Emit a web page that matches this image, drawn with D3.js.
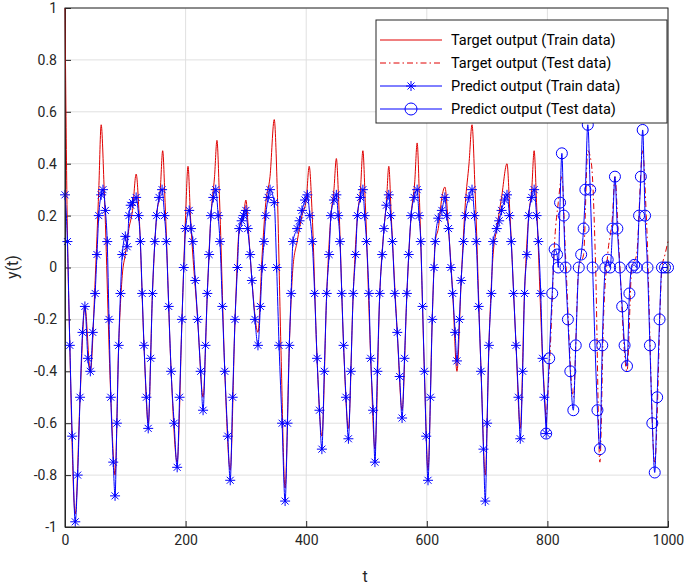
<!DOCTYPE html><html><head><meta charset="utf-8"><script src="https://cdn.jsdelivr.net/npm/d3@7"></script>
<style>body{margin:0;background:#fff}text{font-family:Roboto,"Liberation Sans",sans-serif}</style></head><body>
<svg id="c" width="685" height="588"></svg>
<script>
const xTicks=[0,200,400,600,800,1000];
const yTicks=[-1,-0.8,-0.6,-0.4,-0.2,0,0.2,0.4,0.6,0.8,1];
const legendLabels=["Target output (Train data)","Target output (Test data)","Predict output (Train data)","Predict output (Test data)"];
const targetTrain=[[0,1],[3,.3],[8,-.3],[17,-.95],[25,-.5],[33,-.15],[42,-.4],[50,-.05],[56,.3],[60,.55],[65,.3],[76,-.5],[83,-.8],[89,-.3],[95,-.03],[100,.05],[106,.15],[112,.22],[118,.36],[123,.2],[131,-.3],[138,-.6],[145,-.1],[152,.2],[158,.3],[162,.45],[166,.25],[176,-.4],[186,-.75],[194,-.2],[200,.2],[204,.39],[208,.2],[220,-.2],[229,-.5],[236,-.1],[242,.2],[248,.35],[252,.49],[256,.28],[265,-.4],[274,-.78],[282,-.2],[289,.15],[296,.2],[300,.26],[304,.15],[310,-.05],[320,-.25],[327,.05],[333,.25],[340,.35],[347,.57],[352,.3],[358,-.3],[365,-.85],[372,-.3],[378,0],[385,.1],[393,.2],[400,.26],[405,.39],[410,.2],[418,-.35],[426,-.65],[434,-.1],[441,.2],[446,.3],[450,.42],[454,.25],[462,-.3],[470,-.62],[478,-.1],[485,.2],[490,.3],[494,.45],[498,.25],[507,-.35],[514,-.7],[522,-.1],[529,.15],[533,.25],[537,.39],[541,.2],[551,-.25],[559,-.55],[567,-.1],[574,.2],[580,.33],[584,.48],[588,.25],[596,-.4],[602,-.78],[609,-.2],[614,.1],[619,.15],[625,.27],[630,.31],[636,.15],[643,-.1],[650,-.4],[657,-.05],[664,.25],[670,.4],[675,.55],[680,.3],[690,-.4],[697,-.8],[703,-.3],[710,.05],[716,.15],[724,.27],[733,.4],[738,.2],[748,-.3],[755,-.62],[762,-.1],[769,.2],[774,.3],[778,.45],[782,.25],[792,-.35],[798,-.6]];
const targetTest=[[798,-.6],[805,-.3],[812,.1],[818,.25],[824,.35],[830,.05],[843,-.5],[852,0],[860,.05],[867,.45],[873,.4],[880,0],[887,-.75],[893,-.2],[900,.05],[908,.2],[912,.35],[918,.1],[932,-.4],[940,0],[948,.05],[958,.45],[964,.2],[978,-.75],[990,0],[995,.05],[1000,.1]];
const predTrain=[[0,.28],[4,.1],[8,-.3],[12,-.65],[17,-.98],[21,-.8],[25,-.5],[29,-.25],[33,-.15],[38,-.35],[42,-.4],[46,-.25],[50,-.1],[53,.05],[56,.2],[60,.28],[63,.3],[67,.22],[70,.1],[73,-.2],[76,-.5],[80,-.75],[83,-.88],[86,-.6],[89,-.3],[92,-.1],[95,.05],[100,.12],[103,.08],[106,.2],[109,.24],[112,.25],[118,.27],[122,.2],[125,.1],[128,-.1],[131,-.3],[135,-.5],[138,-.62],[142,-.35],[145,-.1],[149,.1],[152,.2],[156,.27],[161,.3],[165,.2],[168,.1],[172,-.15],[176,-.4],[181,-.6],[186,-.77],[190,-.5],[194,-.2],[197,0],[200,.15],[206,.22],[209,.15],[212,.1],[216,-.05],[220,-.2],[225,-.4],[229,-.55],[233,-.3],[236,-.1],[239,.05],[242,.2],[246,.27],[250,.3],[254,.2],[257,.1],[261,-.15],[265,-.4],[270,-.65],[274,-.82],[278,-.5],[282,-.2],[286,0],[289,.15],[293,.18],[296,.2],[300,.22],[303,.15],[307,.05],[310,-.05],[315,-.2],[320,-.3],[324,-.15],[327,0],[330,.1],[333,.2],[337,.27],[340,.3],[347,.25],[351,0],[355,-.3],[360,-.6],[365,-.9],[369,-.6],[372,-.3],[375,-.1],[378,.1],[385,.15],[389,.18],[393,.22],[398,.26],[402,.28],[406,.2],[410,.1],[414,-.1],[418,-.35],[422,-.55],[426,-.7],[430,-.4],[434,-.1],[438,.05],[441,.2],[446,.26],[450,.28],[453,.2],[456,.1],[459,-.1],[462,-.3],[466,-.5],[470,-.66],[474,-.4],[478,-.1],[482,.05],[485,.2],[490,.27],[494,.3],[497,.2],[500,.1],[504,-.1],[507,-.35],[511,-.55],[514,-.75],[518,-.4],[522,-.1],[526,.05],[529,.15],[533,.24],[537,.28],[540,.2],[543,.1],[547,-.1],[551,-.25],[555,-.42],[559,-.58],[563,-.35],[567,-.1],[570,.05],[574,.2],[579,.27],[584,.3],[587,.2],[590,.1],[593,-.15],[596,-.4],[599,-.65],[602,-.82],[606,-.5],[609,-.2],[612,0],[614,.1],[619,.19],[625,.22],[630,.27],[633,.2],[636,.15],[640,0],[643,-.1],[647,-.25],[650,-.36],[654,-.2],[657,-.05],[661,.1],[664,.2],[670,.27],[675,.3],[679,.2],[682,.1],[686,-.15],[690,-.4],[694,-.7],[697,-.9],[700,-.6],[703,-.3],[707,-.1],[710,.1],[716,.15],[720,.18],[724,.22],[729,.26],[733,.28],[737,.2],[740,.1],[744,-.1],[748,-.3],[752,-.5],[755,-.66],[759,-.4],[762,-.1],[766,.05],[769,.2],[774,.27],[778,.3],[782,.2],[785,.1],[789,-.1],[792,-.35],[795,-.5],[798,-.64]];
const predTest=[[798,-.64],[803,-.35],[808,-.1],[812,.07],[816,.05],[818,0],[821,.25],[824,.44],[827,.2],[830,0],[834,-.2],[838,-.4],[843,-.55],[847,-.3],[852,0],[856,.05],[860,.15],[863,.3],[867,.55],[871,.3],[875,0],[879,-.3],[883,-.55],[887,-.7],[891,-.3],[896,0],[900,.03],[904,0],[908,.15],[912,.35],[916,.15],[920,0],[924,-.15],[928,-.3],[932,-.38],[936,-.1],[940,0],[944,.01],[948,0],[952,.2],[955,.35],[958,.53],[962,.2],[966,0],[970,-.3],[974,-.6],[978,-.79],[982,-.5],[986,-.2],[990,0],[995,0],[1000,0]];

const svg=d3.select("#c");
const L=65,R=668,T=8,B=527;
const x=d3.scaleLinear().domain([0,1000]).range([L,R]);
const y=d3.scaleLinear().domain([-1,1]).range([B,T]);
const g=svg.append("g");
g.selectAll(".gx").data(xTicks).join("line").attr("x1",d=>x(d)).attr("x2",d=>x(d)).attr("y1",T).attr("y2",B).attr("stroke","#e0e0e0");
g.selectAll(".gy").data(yTicks).join("line").attr("y1",d=>y(d)).attr("y2",d=>y(d)).attr("x1",L).attr("x2",R).attr("stroke","#e0e0e0");
const xa=svg.append("g").attr("transform",`translate(0,${B})`).call(d3.axisBottom(x).tickValues(xTicks).tickFormat(d=>String(d)).tickSizeInner(-6).tickSizeOuter(0).tickPadding(8));
const ya=svg.append("g").attr("transform",`translate(${L},0)`).call(d3.axisLeft(y).tickValues(yTicks).tickFormat(d=>String(+d.toFixed(1))).tickSizeInner(-6).tickSizeOuter(0).tickPadding(8));
[xa,ya].forEach(a=>{a.selectAll("text").attr("font-size",14).attr("fill","#262626");a.selectAll("line,path").attr("stroke","#262626");});
const line=d3.line().x(d=>x(d[0])).y(d=>y(d[1])).curve(d3.curveMonotoneX);
const plot=svg.append("g");
plot.append("path").attr("d",line(targetTrain)).attr("fill","none").attr("stroke","#e00000").attr("stroke-width",1);
plot.append("path").attr("d",line(targetTest)).attr("fill","none").attr("stroke","#e00000").attr("stroke-width",1).attr("stroke-dasharray","6,3,1.5,3");
plot.append("path").attr("d",line(predTrain)).attr("fill","none").attr("stroke","#0000ff").attr("stroke-width",1);
plot.append("path").attr("d",line(predTest)).attr("fill","none").attr("stroke","#0000ff").attr("stroke-width",1);
const star="M-5,0H5M0,-5V5M-3.5,-3.5L3.5,3.5M-3.5,3.5L3.5,-3.5";
plot.selectAll(".st").data(predTrain).join("path").attr("d",star).attr("transform",d=>`translate(${x(d[0])},${y(d[1])})`).attr("stroke","#0000ff").attr("fill","none");
plot.selectAll(".ci").data(predTest).join("circle").attr("cx",d=>x(d[0])).attr("cy",d=>y(d[1])).attr("r",5.5).attr("stroke","#0000ff").attr("fill","none");
svg.append("rect").attr("x",L).attr("y",T).attr("width",R-L).attr("height",B-T).attr("fill","none").attr("stroke","#262626");
svg.append("text").attr("x",365).attr("y",582).attr("text-anchor","middle").attr("font-size",16).attr("fill","#262626").text("t");
svg.append("text").attr("transform","translate(18,267) rotate(-90)").attr("text-anchor","middle").attr("font-size",16).attr("fill","#262626").text("y(t)");
const lg=svg.append("g");
lg.append("rect").attr("x",376).attr("y",20).attr("width",291).attr("height",103).attr("fill","#fff").attr("stroke","#262626");
legendLabels.forEach((s,i)=>{const yy=40+i*23;const e=lg.append("g");
 e.append("line").attr("x1",380).attr("x2",442).attr("y1",yy).attr("y2",yy).attr("stroke",i<2?"#e00000":"#0000ff").attr("stroke-dasharray",i==1?"6,3,1.5,3":null);
 if(i==2)e.append("path").attr("d",star).attr("transform",`translate(411,${yy})`).attr("stroke","#0000ff");
 if(i==3)e.append("circle").attr("cx",411).attr("cy",yy).attr("r",6).attr("stroke","#0000ff").attr("fill","none");
 e.append("text").attr("x",451).attr("y",yy+5).attr("font-size",14.5).attr("fill","#000").text(s);});
</script></body></html>
